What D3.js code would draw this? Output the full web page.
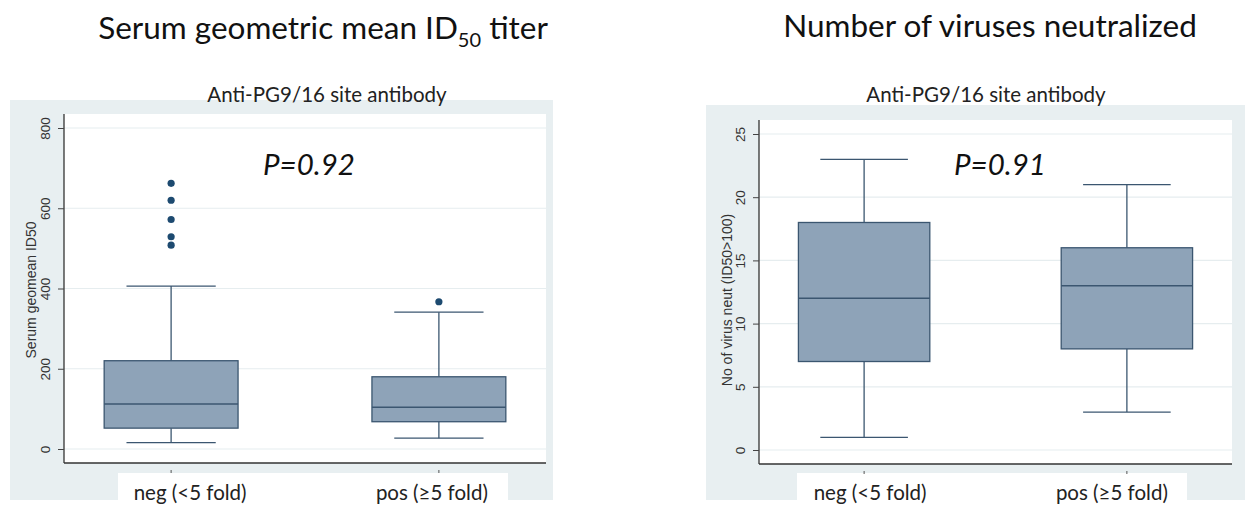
<!DOCTYPE html>
<html>
<head>
<meta charset="utf-8">
<script src="https://cdn.jsdelivr.net/npm/d3@7"></script>
<style>
  body { margin: 0; background: #ffffff; }
  svg { display: block; }
</style>
</head>
<body>
<div id="chart"></div>
<script>
// Data
const groups = ["neg (<5 fold)", "pos (≥5 fold)"];

// Serum geometric mean ID50 titer: [lower whisker, Q1, median, Q3, upper whisker]
const titerNeg = [16, 52, 112, 220, 406];
const titerPos = [27, 68, 104, 180, 341];
const titerOutNeg = [662, 620, 572, 529, 508];
const titerOutPos = [367];
const titerTicks = [0, 200, 400, 600, 800];

// Number of viruses neutralized
const neutNeg = [1, 7, 12, 18, 23];
const neutPos = [3, 8, 13, 16, 21];
const neutTicks = [0, 5, 10, 15, 20, 25];

const W = 1245, H = 509;
const boxFill = "#8ea3b8";
const boxLine = "#3b5670";
const markColor = "#1d4a70";
const bgColor = "#e8eff1";
const gridColor = "#e6edef";

const svg = d3.select("#chart")
  .append("svg")
  .attr("width", W)
  .attr("height", H);

function panel(opt) {
  const g = svg.append("g");

  // outer graph region
  g.append("rect")
    .attr("x", opt.bg[0]).attr("y", opt.bg[1])
    .attr("width", opt.bg[2]).attr("height", opt.bg[3])
    .attr("fill", bgColor);

  // white band behind the category labels
  g.append("rect")
    .attr("x", opt.band[0]).attr("y", opt.band[1])
    .attr("width", opt.band[2]).attr("height", opt.band[3])
    .attr("fill", "#ffffff");

  // plot region
  g.append("rect")
    .attr("x", opt.plot.left).attr("y", opt.plot.top)
    .attr("width", opt.plot.right - opt.plot.left)
    .attr("height", opt.plot.bottom - opt.plot.top)
    .attr("fill", "#ffffff");

  const x = d3.scalePoint()
    .domain(groups)
    .range([opt.plot.left, opt.plot.right])
    .padding(0.4);

  const y = d3.scaleLinear()
    .domain(opt.domain)
    .range(opt.yRange);

  // gridlines
  g.append("g")
    .selectAll("line")
    .data(opt.ticks)
    .join("line")
    .attr("x1", opt.plot.left).attr("x2", opt.plot.right)
    .attr("y1", d => y(d)).attr("y2", d => y(d))
    .attr("stroke", gridColor)
    .attr("stroke-width", 1.2);

  // Y-axis
  const yAxis = g.append("g")
    .attr("transform", `translate(${opt.plot.left},0)`)
    .call(d3.axisLeft(y).tickValues(opt.ticks).tickSize(6).tickPadding(4));
  yAxis.select(".domain")
    .attr("d", `M0,${opt.plot.top}V${opt.plot.bottom}`)
    .attr("stroke", "#333")
    .attr("stroke-width", 1.3);
  yAxis.selectAll(".tick line").attr("stroke", "#444");
  yAxis.selectAll(".tick text")
    .attr("transform", "rotate(-90)")
    .attr("x", 0)
    .attr("y", -14)
    .attr("dy", 0)
    .attr("text-anchor", "middle")
    .style("font-family", "'Liberation Sans', Arial, sans-serif")
    .style("font-size", "13.5px")
    .attr("fill", "#333");

  yAxis.append("text")
    .attr("transform", "rotate(-90)")
    .attr("x", -opt.yTitleY)
    .attr("y", opt.yTitleX - opt.plot.left)
    .attr("text-anchor", "middle")
    .style("font-family", "'Liberation Sans', Arial, sans-serif")
    .style("font-size", "14px")
    .attr("fill", "#333")
    .text(opt.yTitle);

  // X-axis line
  g.append("line")
    .attr("x1", opt.plot.left).attr("x2", opt.plot.right)
    .attr("y1", opt.plot.bottom).attr("y2", opt.plot.bottom)
    .attr("stroke", "#333")
    .attr("stroke-width", 1.3);

  // tiny category ticks
  g.append("g")
    .selectAll("line")
    .data(groups)
    .join("line")
    .attr("x1", d => x(d)).attr("x2", d => x(d))
    .attr("y1", opt.plot.bottom + 7).attr("y2", opt.plot.bottom + 10)
    .attr("stroke", "#555");

  // category labels
  g.append("g")
    .selectAll("text")
    .data(groups)
    .join("text")
    .attr("x", (d, i) => x(d) + opt.labelShift[i])
    .attr("y", 500)
    .attr("text-anchor", "middle")
    .style("font-family", "Lato, 'Open Sans', sans-serif")
    .style("font-size", "20.5px")
    .attr("fill", "#222")
    .text(d => d);

  // boxes
  const boxW = x.step() * 0.5;
  const capW = boxW * 2 / 3;
  const stats = groups.map((d, i) => ({ key: d, s: opt.stats[i] }));

  const b = g.append("g")
    .selectAll("g")
    .data(stats)
    .join("g");

  b.append("line")
    .attr("x1", d => x(d.key)).attr("x2", d => x(d.key))
    .attr("y1", d => y(d.s[0])).attr("y2", d => y(d.s[1]))
    .attr("stroke", boxLine).attr("stroke-width", 1.3);
  b.append("line")
    .attr("x1", d => x(d.key)).attr("x2", d => x(d.key))
    .attr("y1", d => y(d.s[3])).attr("y2", d => y(d.s[4]))
    .attr("stroke", boxLine).attr("stroke-width", 1.3);
  b.append("line")
    .attr("x1", d => x(d.key) - capW / 2).attr("x2", d => x(d.key) + capW / 2)
    .attr("y1", d => y(d.s[0])).attr("y2", d => y(d.s[0]))
    .attr("stroke", boxLine).attr("stroke-width", 1.3);
  b.append("line")
    .attr("x1", d => x(d.key) - capW / 2).attr("x2", d => x(d.key) + capW / 2)
    .attr("y1", d => y(d.s[4])).attr("y2", d => y(d.s[4]))
    .attr("stroke", boxLine).attr("stroke-width", 1.3);
  b.append("rect")
    .attr("x", d => x(d.key) - boxW / 2)
    .attr("width", boxW)
    .attr("y", d => y(d.s[3]))
    .attr("height", d => y(d.s[1]) - y(d.s[3]))
    .attr("fill", boxFill)
    .attr("stroke", boxLine).attr("stroke-width", 1.3);
  b.append("line")
    .attr("x1", d => x(d.key) - boxW / 2).attr("x2", d => x(d.key) + boxW / 2)
    .attr("y1", d => y(d.s[2])).attr("y2", d => y(d.s[2]))
    .attr("stroke", boxLine).attr("stroke-width", 1.6);

  // outliers
  const outs = [];
  groups.forEach((d, i) => (opt.outliers[i] || []).forEach(v => outs.push({ key: d, v })));
  g.append("g")
    .selectAll("circle")
    .data(outs)
    .join("circle")
    .attr("cx", d => x(d.key))
    .attr("cy", d => y(d.v))
    .attr("r", 3.6)
    .attr("fill", markColor);

  // subtitle
  g.append("text")
    .attr("x", opt.subX)
    .attr("y", 102)
    .attr("text-anchor", "middle")
    .style("font-family", "Lato, 'Open Sans', sans-serif")
    .style("font-size", "20.5px")
    .attr("fill", "#222")
    .text("Anti-PG9/16 site antibody");

  // p-value
  g.append("text")
    .attr("x", opt.pX)
    .attr("y", 175)
    .attr("text-anchor", "middle")
    .style("font-family", "Lato, 'Open Sans', sans-serif")
    .style("font-style", "italic")
    .style("font-size", "29.5px")
    .attr("fill", "#111")
    .text(opt.pText);

  return g;
}

panel({
  bg: [10, 100, 543, 400],
  band: [118, 473, 390, 36],
  plot: { left: 64, right: 546, top: 114, bottom: 463 },
  domain: [0, 800],
  yRange: [449, 128],
  ticks: titerTicks,
  yTitle: "Serum geomean ID50",
  yTitleX: 36,
  yTitleY: 290,
  stats: [titerNeg, titerPos],
  outliers: [titerOutNeg, titerOutPos],
  labelShift: [19, -7],
  subX: 327,
  pX: 309,
  pText: "P=0.92"
});

panel({
  bg: [706, 105, 539, 395],
  band: [797, 473, 390, 36],
  plot: { left: 759, right: 1232, top: 120, bottom: 464 },
  domain: [0, 25],
  yRange: [450, 134],
  ticks: neutTicks,
  yTitle: "No of virus neut (ID50>100)",
  yTitleX: 732,
  yTitleY: 300,
  stats: [neutNeg, neutPos],
  outliers: [[], []],
  labelShift: [6, -15],
  subX: 986,
  pX: 1000,
  pText: "P=0.91"
});

// main titles
const t1 = svg.append("text")
  .attr("x", 323)
  .attr("y", 39)
  .attr("text-anchor", "middle")
  .style("font-family", "Lato, 'Open Sans', sans-serif")
  .style("font-size", "31.5px")
  .attr("fill", "#111");
t1.append("tspan").text("Serum geometric mean ID");
t1.append("tspan").attr("dy", 8).style("font-size", "20px").text("50");
t1.append("tspan").attr("dy", -8).text(" titer");

svg.append("text")
  .attr("x", 990)
  .attr("y", 37)
  .attr("text-anchor", "middle")
  .style("font-family", "Lato, 'Open Sans', sans-serif")
  .style("font-size", "31.5px")
  .attr("fill", "#111")
  .text("Number of viruses neutralized");
</script>
</body>
</html>
